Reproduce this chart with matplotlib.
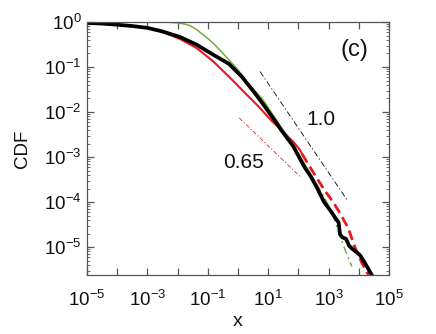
import matplotlib
matplotlib.use("Agg")
import matplotlib.pyplot as plt
import numpy as np
from matplotlib.ticker import LogLocator, NullFormatter, FixedLocator

plt.rcParams['font.family'] = ['Liberation Sans', 'DejaVu Sans']
plt.rcParams['mathtext.fontset'] = 'custom'
plt.rcParams['mathtext.rm'] = 'Liberation Sans'
plt.rcParams['mathtext.it'] = 'Liberation Sans'

# All values below are log10 of the plotted coordinates.
# Black (empirical) curve
black_lx = [-5.0, -4.5, -4.0, -3.5, -3.0, -2.5, -1.92, -1.37, -0.82, -0.3, 0.12, 0.56, 0.89, 1.23, 1.42, 1.83,
            2.02, 2.2, 2.4, 2.6, 2.85, 3.05, 3.22, 3.33, 3.38, 3.45, 3.58, 3.68, 3.77, 3.9, 4.04, 4.2, 4.43]
black_ly = [-0.02, -0.035, -0.06, -0.09, -0.13, -0.21, -0.333, -0.504, -0.727, -0.93, -1.21, -1.58, -1.88, -2.20, -2.39, -2.76,
            -3.0, -3.22, -3.42, -3.66, -4.0, -4.18, -4.35, -4.45, -4.72, -4.78, -4.82, -4.97, -5.03, -5.10, -5.18, -5.35, -5.62]

# Green curve: solid part and dash-dot tail
green_lx = [-5.0, -3.0, -2.3, -2.0, -1.8, -1.59, -1.37, -1.1, -0.82, -0.55, -0.26, 0.0, 0.29, 0.84, 1.39, 1.83, 2.2, 2.6]
green_ly = [0.0, 0.0, -0.005, -0.02, -0.04, -0.08, -0.17, -0.31, -0.47, -0.66, -0.87, -1.06, -1.33, -1.74, -2.30, -2.72, -3.15, -3.60]
green_tail_lx = [2.6, 2.82, 3.0, 3.16, 3.38, 3.54, 3.77]
green_tail_ly = [-3.60, -3.85, -4.08, -4.32, -4.76, -5.05, -5.43]

# Red curve: solid part and dashed tail
red_lx = [-5.0, -4.0, -3.0, -2.5, -1.92, -1.37, -0.82, -0.43, -0.26, 0.12, 0.67, 1.12, 1.42, 1.83, 2.05, 2.12]
red_ly = [-0.02, -0.06, -0.13, -0.22, -0.378, -0.578, -0.876, -1.13, -1.24, -1.50, -1.87, -2.20, -2.39, -2.66, -2.84, -2.93]
red_tail_lx = [2.12, 2.5, 2.85, 3.15, 3.38, 3.65, 3.87, 4.10, 4.32]
red_tail_ly = [-2.93, -3.35, -3.72, -4.0, -4.25, -4.58, -5.0, -5.35, -5.62]

# Power-law guide lines (slopes 1.0 and 0.65)
guide1_lx = [0.73, 3.65]
guide1_ly = [-1.10, -3.99]
guide065_lx = [0.04, 2.05]
guide065_ly = [-2.13, -3.43]

labels = {'1.0': (2.74, -2.17), '0.65': (0.18, -3.13), '(c)': (3.87, -0.62)}


def p(a):
    return 10.0 ** np.asarray(a)


fig = plt.figure(figsize=(4.36, 3.34), dpi=100)
ax = fig.add_axes([87/436, 1 - 275/334, (389-87)/436, (275-22)/334])

ax.plot(p(guide1_lx), p(guide1_ly), color='black', lw=0.6, ls=(0, (7, 3, 1.5, 3)))
ax.plot(p(guide065_lx), p(guide065_ly), color='#e8191e', lw=0.6, ls=(0, (5, 2.5, 1.5, 2.5)))

ax.plot(p(red_lx), p(red_ly), color='#e8191e', lw=1.5)
ax.plot(p(red_tail_lx), p(red_tail_ly), color='#e8191e', lw=2.0, ls=(0, (3.6, 1.8)))
ax.plot(p(green_lx), p(green_ly), color='#78a83e', lw=1.1)
ax.plot(p(green_tail_lx), p(green_tail_ly), color='#78a83e', lw=1.1, ls=(0, (5, 2.5, 1.2, 2.5)))
ax.plot(p(black_lx), p(black_ly), color='black', lw=2.7)

ax.set_xscale('log')
ax.set_yscale('log')
ax.set_xlim(1e-5, 1e5)
ax.set_ylim(10**-5.62, 1.0)

xt = list(range(-5, 6))
ax.xaxis.set_major_locator(FixedLocator([10.0**k for k in xt]))
ax.xaxis.set_minor_locator(FixedLocator([]))
ax.set_xticklabels([r'$10^{%d}$' % k if k % 2 != 0 else '' for k in xt])
yt = list(range(-5, 1))
ax.yaxis.set_major_locator(FixedLocator([10.0**k for k in yt]))
ax.set_yticklabels([r'$10^{%d}$' % k for k in yt])
ax.yaxis.set_minor_locator(LogLocator(base=10, subs=np.arange(2, 10), numticks=20))
ax.yaxis.set_minor_formatter(NullFormatter())

ax.tick_params(which='both', direction='in', top=True, right=True, colors='#555555', labelcolor='#111111', labelsize=13.5)
ax.tick_params(which='major', length=5, width=0.9)
ax.tick_params(which='minor', length=2.5, width=0.6)
ax.tick_params(axis='x', pad=11)
ax.tick_params(axis='y', pad=4)
for s in ax.spines.values():
    s.set_color('#555555')
    s.set_linewidth(0.9)

ax.set_xlabel('x', fontsize=14, labelpad=2, color='#111111')
ax.set_ylabel('CDF', fontsize=13.5, labelpad=9, color='#111111')

for txt, (lx, ly) in labels.items():
    ax.text(10**lx, 10**ly, txt, fontsize=17 if txt == '(c)' else 15,
            ha='center', va='center', color='#111111')

fig.savefig('out.png', dpi=100)
